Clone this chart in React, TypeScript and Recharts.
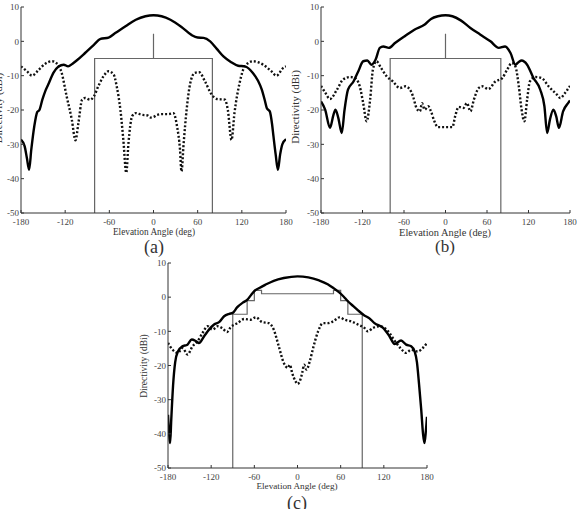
import React from 'react';
import { LineChart, Line, XAxis, YAxis } from 'recharts';

const X_TICKS = [-180, -120, -60, 0, 60, 120, 180];
const Y_TICKS = [-50, -40, -30, -20, -10, 0, 10];

// ---------- panel (a) ----------
const aSolidDeg = [-180, -175, -172, -169, -166, -162, -158, -155, -151, -147, -143, -136, -129, -122, -116, -110, -104, -93, -81, -72, -61, -52, -38, -24, -11, 0, 11, 23, 38, 52, 60, 68, 77, 86, 95, 105, 115, 124, 135, 142, 147, 151, 154, 158, 161, 163, 166, 169, 172, 175, 180];
const aSolidDb = [-28.6, -30.6, -34, -37.4, -31.5, -24.8, -20.6, -20, -17, -14.5, -12.6, -9.2, -7.3, -6.8, -7.3, -6.5, -5.5, -3.4, -1, 0.7, 1.1, 2.4, 4.4, 6.3, 7.3, 7.6, 7.3, 6.3, 4.2, 1.8, 1.1, 1, 0, -2.2, -4.4, -6, -7.1, -7.3, -9.2, -11.5, -14, -17, -19.5, -20.4, -24, -27.7, -33, -37.4, -33, -30, -28.5];
const aDotDeg = [-180, -172, -165, -156, -147, -138, -131, -125, -118, -111, -106, -102, -97, -93, -86, -81, -75, -68, -61, -54, -50, -45, -41, -37, -34, -29, -24, -16, -8, -4, 0, 5, 12, 20, 27, 32, 36, 38, 41, 45, 50, 56, 62, 70, 79, 86, 97, 101, 106, 110, 117, 124, 135, 149, 160, 167, 176, 180];
const aDotDb = [-7.3, -8.7, -10, -8.3, -6.5, -5.8, -6.5, -9, -16, -22.8, -28.8, -23.8, -17, -16.5, -17, -16, -13.1, -10.2, -8.7, -9.7, -13.1, -19.9, -28.6, -38.3, -29.6, -21.8, -20.9, -21.4, -21.6, -22.2, -22, -21.4, -21.2, -21.2, -20.9, -24.8, -31.5, -37.9, -29.6, -19.9, -12.1, -9.2, -9, -11.7, -15.5, -16.8, -17, -20, -28.7, -20.9, -12.1, -7.3, -5.8, -6.8, -8.7, -10, -7.8, -7.3];
const aMaskDeg = [-80, -80, 0, 0, 0, 80, 80];
const aMaskDb = [-50, -5, -5, 2.2, -5, -5, -50];

// ---------- panel (b) ----------
const bSolidDeg = [-180, -174, -167, -162, -159, -155, -150, -146, -141, -133, -126, -119, -113, -107, -101, -95, -90, -82, -73, -59, -45, -30, -21, -11, 0, 10, 22, 36, 50, 65, 77, 86, 94, 101, 106, 110, 118, 127, 137, 143, 147, 151, 156, 160, 164, 170, 178, 180];
const bSolidDb = [-17.5, -19.9, -25.2, -21.4, -19.9, -22.3, -26.7, -20, -14.1, -11.7, -8.7, -5.8, -5.6, -6.8, -5.3, -1.9, -1.5, -1.9, -0.5, 1.5, 3.4, 4.9, 6.5, 7.3, 7.6, 7.3, 6.1, 3.9, 2, 0, -1.9, -1.5, -3.4, -6.8, -6, -5.6, -6.8, -10.6, -14.1, -18.9, -26.7, -22.8, -19.9, -21.8, -25.2, -20.4, -17.8, -17.2];
const bDotDeg = [-180, -174, -167, -157, -148, -138, -131, -124, -119, -114, -109, -105, -100, -93, -85, -76, -66, -58, -52, -47, -42, -37, -34, -30, -25, -21, -16, -11, 0, 10, 14, 19, 26, 31, 36, 41, 48, 53, 62, 72, 82, 89, 96, 101, 106, 110, 114, 118, 122, 130, 139, 149, 161, 166, 173, 180];
const bDotDb = [-13, -14.9, -16.8, -14.1, -11.1, -10.4, -10.7, -13.1, -18, -23.3, -17, -8.3, -5.8, -7.8, -10.2, -11.7, -13.6, -13.1, -13.9, -16, -19.4, -20.4, -18, -19.9, -18.9, -20.4, -23.3, -25, -25, -25, -21.8, -19.1, -19.4, -18, -20.4, -17, -13.6, -13.1, -13.9, -11.7, -10.7, -8.3, -6.3, -7.3, -13.1, -19.9, -23.3, -17, -11.7, -10.4, -10.7, -13.1, -15.5, -16.5, -15, -13];
const bMaskDeg = [-80, -80, 0, 0, 0, 80, 80];
const bMaskDb = [-50, -5, -5, 2.2, -5, -5, -50];

// ---------- panel (c) ----------
const cSolidDeg = [-180, -178, -177, -175.5, -173, -170, -166, -160, -153, -147, -141, -137, -130, -123, -116, -109, -102, -95, -90, -84, -76, -70, -64, -60, -53, -45, -33, -19, 0, 15, 30, 42, 51, 58, 64, 70, 78, 86, 92, 100, 107, 119, 128, 135, 144, 151, 158, 163, 166, 169, 172, 174.5, 176.5, 178.5, 180];
const cSolidDb = [-34.4, -41.2, -42.7, -36, -26, -19, -15.8, -14.4, -13.9, -12.4, -12.9, -13.4, -11.5, -9.5, -8, -7.3, -5.6, -4.9, -4.6, -3, -1.6, -0.8, 0.8, 1.8, 2.7, 3.6, 4.8, 5.6, 6.1, 5.8, 4.9, 3.8, 2.5, 1.4, 0.2, -1.2, -2.7, -4.2, -5.2, -6.2, -7.6, -9, -11.5, -13.7, -12.7, -13.9, -14.4, -16, -19, -25.6, -33, -40, -42.7, -39, -35];
const cDotDeg = [-180, -173.5, -166.6, -159.7, -152.8, -146, -139, -132, -125, -118, -111, -104, -98, -93, -83.5, -74, -65, -58, -49, -40, -33, -26, -19, -13.4, -10.6, -7.4, -2.8, 0, 3.2, 6.5, 9.2, 12.5, 17, 21.7, 28.6, 35.5, 42.5, 49.4, 58.6, 65.5, 74.8, 84, 93, 97.8, 104.8, 114, 121, 128, 134.8, 143, 151, 158, 167, 174, 180];
const cDotDb = [-13.4, -15.4, -16.3, -14.9, -16.8, -14.4, -12.9, -10.5, -8.5, -9.5, -8.5, -9.2, -10.2, -8.8, -7.6, -6.4, -6.6, -5.9, -7.3, -7.6, -9.5, -14.4, -19.3, -20.7, -19.8, -22.2, -24.6, -25.4, -24.6, -22.2, -19.8, -21.2, -18.8, -14.9, -10, -7.6, -7.6, -7.1, -5.9, -6.6, -7.1, -8, -9, -10, -9, -8.5, -9, -10.5, -12.7, -14.9, -16.3, -15.4, -15.9, -14.9, -13.4];
const cMaskDeg = [-90, -90, -70, -70, -60, -60, -50, -50, 50, 50, 60, 60, 70, 70, 90, 90];
const cMaskDb = [-50, -5, -5, -1, -1, 2, 2, 1, 1, 2, 2, -1, -1, -5, -5, -50];

const toPts = (xs: number[], ys: number[]) => xs.map((x, i) => ({ x, y: ys[i] }));

const FONT = '"Liberation Serif", "Times New Roman", serif';
const AXIS_COLOR = '#333';
const TICK_STYLE = { fill: '#444', fontSize: 9, fontFamily: FONT };

type PanelProps = {
  width: number;
  height: number;
  margin: { top: number; right: number; bottom: number; left: number };
  yAxisWidth: number;
  xAxisHeight: number;
  solid: { x: number; y: number }[];
  dotted: { x: number; y: number }[];
  mask: { x: number; y: number }[];
};

function Panel({ width, height, margin, yAxisWidth, xAxisHeight, solid, dotted, mask }: PanelProps) {
  return (
    <LineChart width={width} height={height} margin={margin}>
      <XAxis
        xAxisId="b"
        type="number"
        dataKey="x"
        domain={[-180, 180]}
        ticks={X_TICKS}
        interval={0}
        allowDataOverflow
        orientation="bottom"
        height={xAxisHeight}
        tickSize={-3}
        tickMargin={9}
        axisLine={{ stroke: AXIS_COLOR }}
        tickLine={{ stroke: AXIS_COLOR }}
        tick={TICK_STYLE}
      />
      <XAxis
        xAxisId="t"
        type="number"
        dataKey="x"
        domain={[-180, 180]}
        ticks={X_TICKS}
        interval={0}
        allowDataOverflow
        orientation="top"
        height={0}
        tickSize={-3}
        axisLine={{ stroke: AXIS_COLOR }}
        tickLine={{ stroke: AXIS_COLOR }}
        tick={false}
      />
      <YAxis
        yAxisId="l"
        type="number"
        domain={[-50, 10]}
        ticks={Y_TICKS}
        interval={0}
        allowDataOverflow
        width={yAxisWidth}
        tickSize={-3}
        tickMargin={5}
        axisLine={{ stroke: AXIS_COLOR }}
        tickLine={{ stroke: AXIS_COLOR }}
        tick={TICK_STYLE}
      />
      <YAxis
        yAxisId="r"
        orientation="right"
        type="number"
        domain={[-50, 10]}
        ticks={Y_TICKS}
        interval={0}
        allowDataOverflow
        width={0}
        tickSize={-3}
        axisLine={{ stroke: AXIS_COLOR }}
        tickLine={{ stroke: AXIS_COLOR }}
        tick={false}
      />
      <Line xAxisId="b" yAxisId="l" data={mask} dataKey="y" type="linear" stroke="#666" strokeWidth={1.2} dot={false} activeDot={false} isAnimationActive={false} />
      <Line xAxisId="b" yAxisId="l" data={dotted} dataKey="y" type="monotone" stroke="#111" strokeWidth={2.4} strokeDasharray="2 2" dot={false} activeDot={false} isAnimationActive={false} />
      <Line xAxisId="b" yAxisId="l" data={solid} dataKey="y" type="monotone" stroke="#000" strokeWidth={2.4} dot={false} activeDot={false} isAnimationActive={false} />
    </LineChart>
  );
}

function Txt({ x, y, size, text, rotate }: { x: number; y: number; size: number; text: string; rotate?: boolean }) {
  return (
    <div
      style={{
        position: 'absolute',
        left: x,
        top: y,
        transform: `translate(-50%, -50%)${rotate ? ' rotate(-90deg)' : ''}`,
        fontSize: size,
        fontFamily: FONT,
        color: '#333',
        whiteSpace: 'nowrap',
        lineHeight: 1,
      }}
    >
      {text}
    </div>
  );
}

export default function App() {
  return (
    <div style={{ position: 'absolute', left: 0, top: 0, width: 582, height: 509, background: '#fff', overflow: 'hidden' }}>
      <div style={{ position: 'absolute', left: 0, top: 0 }}>
        <Panel
          width={300}
          height={245}
          margin={{ top: 7, right: 14, bottom: 0, left: 0 }}
          yAxisWidth={21}
          xAxisHeight={32}
          solid={toPts(aSolidDeg, aSolidDb)}
          dotted={toPts(aDotDeg, aDotDb)}
          mask={toPts(aMaskDeg, aMaskDb)}
        />
      </div>
      <div style={{ position: 'absolute', left: 300, top: 0 }}>
        <Panel
          width={282}
          height={245}
          margin={{ top: 7, right: 12, bottom: 0, left: 0 }}
          yAxisWidth={21}
          xAxisHeight={32}
          solid={toPts(bSolidDeg, bSolidDb)}
          dotted={toPts(bDotDeg, bDotDb)}
          mask={toPts(bMaskDeg, bMaskDb)}
        />
      </div>
      <div style={{ position: 'absolute', left: 140, top: 250 }}>
        <Panel
          width={300}
          height={240}
          margin={{ top: 13, right: 13, bottom: 0, left: 0 }}
          yAxisWidth={28}
          xAxisHeight={22}
          solid={toPts(cSolidDeg, cSolidDb)}
          dotted={toPts(cDotDeg, cDotDb)}
          mask={toPts(cMaskDeg, cMaskDb)}
        />
      </div>
      <Txt x={154} y={233} size={9.3} text="Elevation Angle (deg)" />
      <Txt x={445} y={233} size={10.4} text="Elevation Angle (deg)" />
      <Txt x={297} y={487} size={9.2} text="Elevation Angle (deg)" />
      <Txt x={-1} y={108} size={10.5} text="Directivity (dBi)" rotate />
      <Txt x={295} y={107} size={11} text="Directivity (dBi)" rotate />
      <Txt x={145} y={366} size={9.5} text="Directivity (dBi)" rotate />
      <Txt x={154} y={247} size={18} text="(a)" />
      <Txt x={445} y={246} size={17} text="(b)" />
      <Txt x={297} y={503} size={18} text="(c)" />
    </div>
  );
}
